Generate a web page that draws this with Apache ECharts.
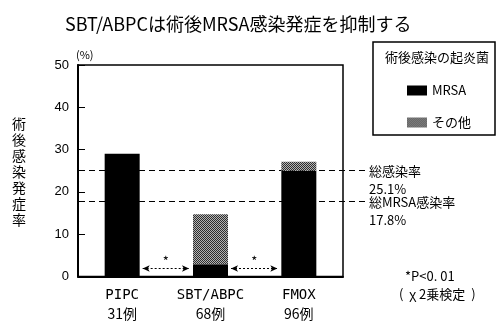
<!DOCTYPE html>
<html><head><meta charset="utf-8">
<script src="https://cdn.jsdelivr.net/npm/echarts@6/dist/echarts.min.js"></script>
<style>html,body{margin:0;padding:0;background:#fff}#c{width:497px;height:321px}</style>
</head><body><div id="c"></div>
<script>
// Postoperative infection rates by antibiotic regimen
const categories = ['PIPC', 'SBT/ABPC', 'FMOX'];
const caseCounts = ['31例', '68例', '96例'];
const mrsaRate = [29.0, 2.9, 25.0];
const otherRate = [0, 11.8, 2.1];
const overallNames = ['総感染率', '総MRSA感染率'];
const overallRates = [25.1, 17.8];
const yMin = 0, yMax = 50, yStep = 10;
const sigPairs = [[0, 1], [1, 2]];
const sigLevel = 1.9;

const JP = '"Noto Sans CJK JP", "Noto Sans", sans-serif';
const MONO = '"DejaVu Sans Mono", "Noto Sans CJK JP", monospace';

// fine grey checker texture for the "other" organisms
function checker() {
  const c = document.createElement('canvas');
  c.width = 4; c.height = 4;
  const g = c.getContext('2d');
  g.fillStyle = '#b4b4b4'; g.fillRect(0, 0, 4, 4);
  g.fillStyle = '#2e2e2e';
  for (let y = 0; y < 4; y++) for (let x = 0; x < 4; x++) if ((x + y) % 2 === 0) g.fillRect(x, y, 1, 1);
  return c;
}
const pattern = { image: checker(), repeat: 'repeat' };

const chart = echarts.init(document.getElementById('c'), null, { renderer: 'canvas' });
const barWidth = 35;

chart.setOption({
  animation: false,
  backgroundColor: '#fff',
  title: {
    text: 'SBT/ABPCは術後MRSA感染発症を抑制する',
    left: 60, top: 10,
    textStyle: { fontFamily: JP, fontSize: 18, fontWeight: 'normal', color: '#000' }
  },
  grid: { left: 78, right: 154, top: 65, bottom: 43, show: true, borderColor: '#000', borderWidth: 1.5 },
  legend: {
    orient: 'vertical', left: 402, top: 79,
    itemWidth: 20, itemHeight: 10, itemGap: 19,
    icon: 'rect',
    textStyle: { fontFamily: JP, fontSize: 13, color: '#000' },
    data: ['MRSA', 'その他']
  },
  xAxis: {
    type: 'category', data: categories,
    axisLine: { lineStyle: { color: '#000', width: 2 } },
    axisTick: { show: false },
    axisLabel: {
      margin: 9, interval: 0,
      formatter: (v, i) => '{a|' + v + '}\n{b|' + caseCounts[i] + '}',
      rich: {
        a: { fontFamily: MONO, fontSize: 14, color: '#000', lineHeight: 19 },
        b: { fontFamily: JP, fontSize: 14, color: '#000', lineHeight: 19 }
      }
    }
  },
  yAxis: {
    type: 'value', min: yMin, max: yMax, interval: yStep,
    axisLine: { show: true, lineStyle: { color: '#000', width: 2 } },
    axisTick: { show: true, inside: true, length: 7, lineStyle: { color: '#000' } },
    splitLine: { show: false },
    axisLabel: { fontFamily: '"Liberation Sans", Arial, sans-serif', fontSize: 13, color: '#000', margin: 9 }
  },
  series: [
    { name: 'MRSA', type: 'bar', stack: 'rate', barWidth: barWidth, data: mrsaRate, itemStyle: { color: '#000' }, z: 3 },
    { name: 'その他', type: 'bar', stack: 'rate', barWidth: barWidth, data: otherRate, itemStyle: { color: pattern }, z: 3 }
  ]
});

// reference lines, significance brackets and annotations placed from the axis scales
const px = (i) => chart.convertToPixel({ xAxisIndex: 0 }, i);
const py = (v) => chart.convertToPixel({ yAxisIndex: 0 }, v);
const left = px(0) - (px(1) - px(0)) / 2;

const refLines = overallRates.map(v => [
  { x: left + 1, y: py(v) },
  { x: 366, y: py(v) }
]);
const sigLines = sigPairs.map(([a, b]) => [
  { x: px(a) + barWidth / 2 + 3, y: py(sigLevel) },
  { x: px(b) - barWidth / 2 - 4, y: py(sigLevel) }
]);

const graphics = [
  { type: 'text', left: 76, top: 49, style: { text: '(%)', font: '11px ' + JP, fill: '#000' } },
  { type: 'text', left: 12, top: 116, style: { text: '術\n後\n感\n染\n発\n症\n率', font: '14px ' + JP, lineHeight: 16, fill: '#000' } },
  { type: 'rect', shape: { x: 373, y: 42, width: 122, height: 93 }, style: { fill: 'none', stroke: '#000', lineWidth: 1.5 } },
  { type: 'text', left: 385, top: 51, style: { text: '術後感染の起炎菌', font: '13px ' + JP, fill: '#000' } },
  { type: 'text', left: 405, top: 270, style: { text: '*P<0. 01', font: '13px ' + JP, fill: '#000' } },
  { type: 'text', left: 399, top: 288, style: { text: '(  χ 2乗検定  )', font: '13px ' + JP, fill: '#000' } }
];
overallRates.forEach((v, k) => {
  graphics.push({
    type: 'text', left: 369, top: py(v) - 8,
    style: { text: overallNames[k] + '\n' + v.toFixed(1) + '%', font: '13px ' + JP, lineHeight: 18, fill: '#000' }
  });
});

chart.setOption({
  series: [
    {
      name: 'MRSA',
      markLine: {
        silent: true, symbol: 'none', z: 1,
        lineStyle: { color: '#000', type: [6, 4], width: 1 },
        label: { show: false },
        data: refLines
      }
    },
    {
      name: 'その他',
      markLine: {
        silent: true, symbol: ['arrow', 'arrow'], symbolSize: [5, 7], z: 4,
        lineStyle: { color: '#000', type: [2, 2], width: 1 },
        label: { show: true, position: 'middle', formatter: '*', distance: 1, fontSize: 13, color: '#000', fontFamily: JP },
        data: sigLines
      }
    }
  ],
  graphic: graphics
});
</script>
</body></html>
